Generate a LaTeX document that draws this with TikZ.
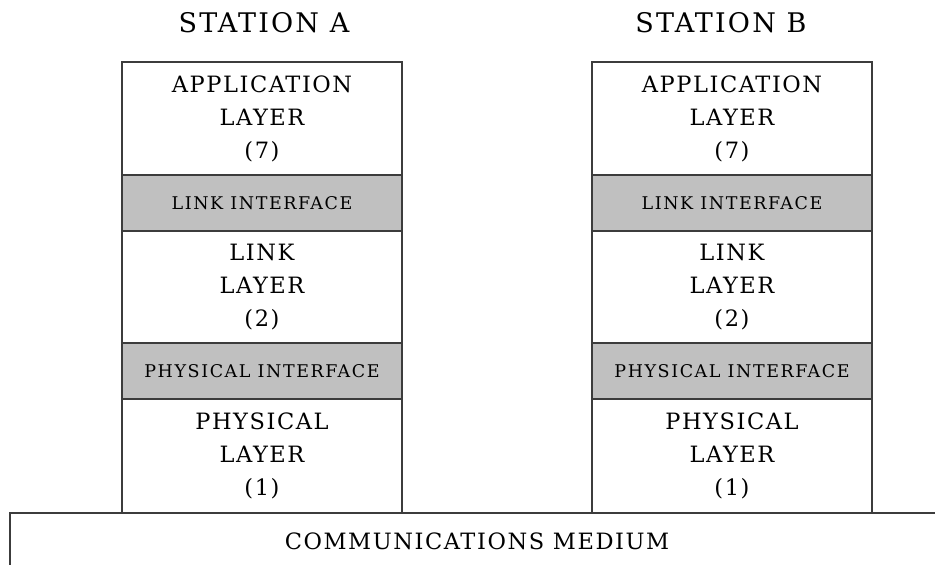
\documentclass[tikz,border=0pt]{standalone}
\usepackage{fontspec}
\setmainfont{DejaVu Serif}
\usetikzlibrary{positioning}

\definecolor{edgegray}{RGB}{60,60,60}
\definecolor{ifgray}{RGB}{192,192,192}

\newfontfamily\layerfam[LetterSpace=7]{DejaVu Serif}
\newfontfamily\iffam[LetterSpace=9]{DejaVu Serif}
\newfontfamily\titlefam[LetterSpace=8]{DejaVu Serif}

\newcommand{\layerfont}{\layerfam\fontsize{22.5}{33}\selectfont}
\newcommand{\iffont}{\iffam\fontsize{17.5}{20}\selectfont}
\newcommand{\titlefont}{\titlefam\fontsize{27}{30}\selectfont}

\tikzset{
    layerbox/.style={draw=edgegray, line width=1.4pt, fill=white, outer sep=0pt,
        inner sep=0pt, minimum width=280pt, minimum height=113pt,
        align=center, font=\layerfont},
    ifbox/.style={layerbox, fill=ifgray, minimum height=56pt, font=\iffont},
    stationtitle/.style={font=\titlefont}
}

\begin{document}
\begin{tikzpicture}[x=1pt,y=-1pt]

    \useasboundingbox (0,0) rectangle (935,565);
    \clip (0,0) rectangle (935,565);

    % communications medium (runs off the right and bottom)
    \draw[edgegray, line width=1.4pt] (10,575) -- (10,513) -- (945,513);
    \node[font=\layerfont] (medium) at (477,541) {COMMUNICATIONS MEDIUM};

    %%%%%%%%%%%%%%%%%%%%%%%%%%%%%%%%%%%%%%%%%%%%%%%%%%%%%%%%%

    % station A
    \node[stationtitle] (titleA) at (264,23) {STATION A};
    \node[layerbox] (appA) at (262,118.5) {APPLICATION\\LAYER\\(7)};
    \node[ifbox, below=0pt of appA] (linkifA) {LINK INTERFACE};
    \node[layerbox, minimum height=112pt, below=0pt of linkifA] (linkA) {LINK\\LAYER\\(2)};
    \node[ifbox, below=0pt of linkA] (physifA) {PHYSICAL INTERFACE};
    \node[layerbox, minimum height=114pt, below=0pt of physifA] (physA) {PHYSICAL\\LAYER\\(1)};

    %%%%%%%%%%%%%%%%%%%%%%%%%%%%%%%%%%%%%%%%%%%%%%%%%%%%%%%%%

    % station B
    \node[stationtitle] (titleB) at (721,23) {STATION B};
    \node[layerbox] (appB) at (732,118.5) {APPLICATION\\LAYER\\(7)};
    \node[ifbox, below=0pt of appB] (linkifB) {LINK INTERFACE};
    \node[layerbox, minimum height=112pt, below=0pt of linkifB] (linkB) {LINK\\LAYER\\(2)};
    \node[ifbox, below=0pt of linkB] (physifB) {PHYSICAL INTERFACE};
    \node[layerbox, minimum height=114pt, below=0pt of physifB] (physB) {PHYSICAL\\LAYER\\(1)};

\end{tikzpicture}
\end{document}
